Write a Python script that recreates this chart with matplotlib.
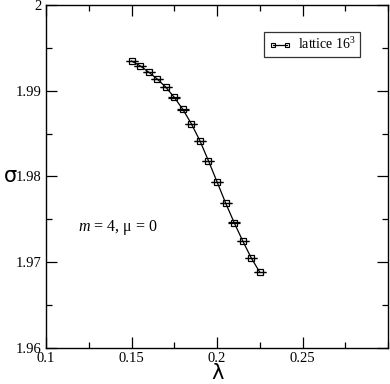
import matplotlib
matplotlib.use('Agg')
import matplotlib.pyplot as plt
from matplotlib.ticker import MultipleLocator
from matplotlib.lines import Line2D

plt.rcParams['font.family'] = ['Liberation Serif', 'DejaVu Serif']
plt.rcParams['mathtext.fontset'] = 'custom'
plt.rcParams['mathtext.it'] = 'Liberation Serif:italic'
plt.rcParams['mathtext.rm'] = 'Liberation Serif'

lam = [0.150, 0.155, 0.160, 0.165, 0.170, 0.175, 0.180, 0.185,
       0.190, 0.195, 0.200, 0.205, 0.210, 0.215, 0.220, 0.225]
sigma = [1.99346, 1.99291, 1.99217, 1.99136, 1.99042, 1.98922, 1.98782, 1.98613,
         1.98415, 1.98181, 1.97936, 1.97690, 1.97461, 1.97247, 1.97048, 1.96881]
err = [0.00002] * len(lam)

fig = plt.figure(figsize=(3.9, 3.84), dpi=100)
ax = fig.add_axes([0.118, 0.0945, 0.877, 0.8925])

ax.errorbar(lam, sigma, yerr=err, color='black', lw=0.9, marker='s', ms=4,
            mfc='none', mec='black', mew=0.9, capsize=4.5, elinewidth=0.9,
            capthick=1.2)

ax.set_xlim(0.1, 0.3)
ax.set_ylim(1.96, 2.0)
ax.set_xticks([0.1, 0.15, 0.2, 0.25])
ax.set_xticklabels(['0.1', '0.15', '0.2', '0.25'])
ax.set_yticks([1.96, 1.97, 1.98, 1.99, 2.0])
ax.set_yticklabels(['1.96', '1.97', '1.98', '1.99', '2'])
ax.xaxis.set_minor_locator(MultipleLocator(0.025))
ax.yaxis.set_minor_locator(MultipleLocator(0.005))
ax.tick_params(which='both', direction='in', top=True, right=True,
               labelsize=10.5, width=0.9)
ax.tick_params(which='major', length=8, pad=3)
ax.tick_params(which='minor', length=4)
for s in ax.spines.values():
    s.set_linewidth(1.0)

ax.set_xlabel('λ', family='DejaVu Sans', fontsize=15)
ax.xaxis.set_label_coords(0.5, -0.045)
ax.set_ylabel('σ', family='DejaVu Sans', fontsize=15, rotation=0)
ax.yaxis.set_label_coords(-0.105, 0.5)
ax.yaxis.label.set_va('center')
ax.yaxis.label.set_ha('center')

ax.text(0.094, 0.352, '$m$ = 4, μ = 0', transform=ax.transAxes, fontsize=11.5,
        va='center', ha='left')

handle = Line2D([], [], color='black', lw=0.9, marker='s', ms=3,
                mfc='none', mec='black', mew=0.8)
leg = ax.legend([handle], ['lattice 16$^3$'], loc='upper right',
                bbox_to_anchor=(0.917, 0.92), fontsize=10, numpoints=2,
                frameon=True, fancybox=False, edgecolor='black',
                handlelength=1.6, handletextpad=0.5, borderpad=0.3,
                borderaxespad=0.0)
leg.get_frame().set_linewidth(0.9)

fig.savefig('out.png', dpi=100)
